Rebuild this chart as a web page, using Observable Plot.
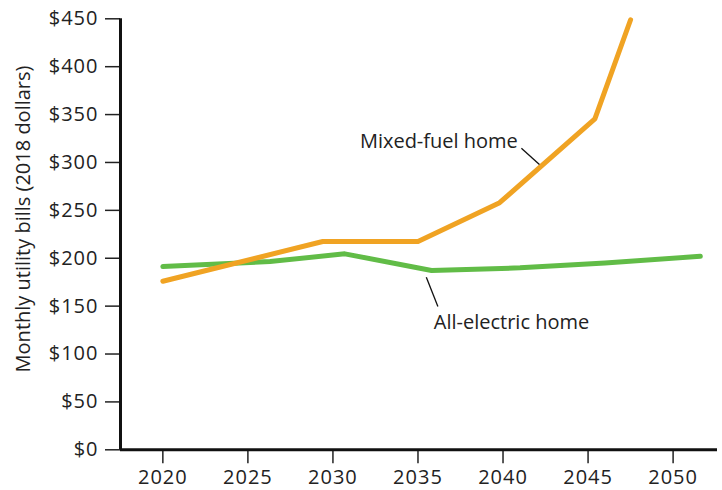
<!DOCTYPE html>
<html>
<head>
<meta charset="utf-8">
<script src="https://cdn.jsdelivr.net/npm/d3@7"></script>
<script src="https://cdn.jsdelivr.net/npm/@observablehq/plot@0.6"></script>
<style>
  html, body { margin: 0; padding: 0; background: #fff; }
  svg { display: block; }
  g[aria-label="y-axis tick label"] text,
  g[aria-label="x-axis tick label"] text { letter-spacing: 1px; }
  g[aria-label="y-title"] text { letter-spacing: 1.1px; }
</style>
</head>
<body>
<div id="chart"></div>
<script>
// Data
const mixedYears  = [2020, 2029.4, 2035.0, 2039.8, 2045.4, 2047.5];
const mixedBills  = [176, 217.5, 217.5, 258, 345.5, 449];
const elecYears   = [2020, 2026.3, 2030.7, 2035.8, 2041.0, 2046.0, 2051.6];
const elecBills   = [191.3, 196.5, 204.6, 187.2, 190, 195, 202];
const xTicks = [2020, 2025, 2030, 2035, 2040, 2045, 2050];
const yTicks = [0, 50, 100, 150, 200, 250, 300, 350, 400, 450];
const seriesNames = ["Mixed-fuel home", "All-electric home"];
const seriesColors = ["#F0A323", "#61BC47"];
const labelYears = [2040.87, 2035.93];
const labelBills = [322, 133];
const leaderX1 = [2041.08, 2035.49];
const leaderY1 = [314.8, 180.2];
const leaderX2 = [2042.14, 2036.17];
const leaderY2 = [297.8, 149.6];
const yLabel = "Monthly utility bills (2018 dollars)";

const mixed = mixedYears.map((x, i) => ({x, y: mixedBills[i]}));
const elec = elecYears.map((x, i) => ({x, y: elecBills[i]}));
const leaders = seriesNames.map((name, i) => ({x1: leaderX1[i], y1: leaderY1[i], x2: leaderX2[i], y2: leaderY2[i]}));

const xMin = 2017.51, xMax = 2052.61;
const font = "'Open Sans', sans-serif";

const chart = Plot.plot({
  width: 722,
  height: 490,
  marginLeft: 120,
  marginRight: 5,
  marginTop: 18.3,
  marginBottom: 40.7,
  style: { fontFamily: font, fontSize: "20px", color: "#222", background: "#fff" },
  x: { domain: [xMin, xMax] },
  y: { domain: [0, 450] },
  marks: [
    Plot.axisY(yTicks, { tickSize: 15, tickPadding: 7, tickFormat: d => "$" + d, label: null, strokeWidth: 1.5, fontSize: 20 }),
    Plot.axisX(xTicks, { tickSize: 14, tickPadding: 6, tickFormat: d => String(d), label: null, strokeWidth: 1.5, fontSize: 20 }),
    Plot.ruleX([xMin], { y1: 0, y2: 450, stroke: "#111", strokeWidth: 3 }),
    Plot.ruleY([0], { x1: xMin, x2: xMax, stroke: "#111", strokeWidth: 3 }),
    Plot.line(elec, { x: "x", y: "y", stroke: seriesColors[1], strokeWidth: 5 }),
    Plot.line(mixed, { x: "x", y: "y", stroke: seriesColors[0], strokeWidth: 5 }),
    Plot.link(leaders, { x1: "x1", y1: "y1", x2: "x2", y2: "y2", stroke: "#111", strokeWidth: 1.3 }),
    Plot.text([seriesNames[0]], { x: labelYears[0], y: labelBills[0], text: d => d, textAnchor: "end", fontSize: 20, fill: "#222" }),
    Plot.text([seriesNames[1]], { x: labelYears[1], y: labelBills[1], text: d => d, textAnchor: "start", fontSize: 20, fill: "#222" }),
    Plot.text([yLabel], { frameAnchor: "left", y: 241, text: d => d, rotate: -90, dx: -97, textAnchor: "middle", fontSize: 20, fill: "#222", ariaLabel: "y-title" })
  ]
});
document.getElementById("chart").appendChild(chart);
</script>
</body>
</html>
